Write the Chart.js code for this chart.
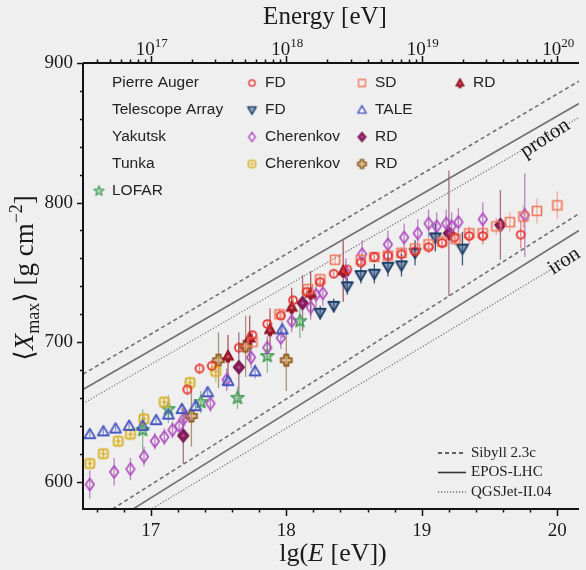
<!DOCTYPE html>
<html>
<head>
<meta charset="utf-8">
<script src="https://cdn.jsdelivr.net/npm/chart.js@4/dist/chart.umd.min.js"></script>
<style>
  html, body { margin: 0; padding: 0; background: #efefef; }
  #wrap { width: 586px; height: 570px; position: relative; }
</style>
</head>
<body>
<div id="wrap"><canvas id="xmaxChart"></canvas></div>
<script>
(function () {
  'use strict';

  // axis ticks
  const lgTicks = [17, 18, 19, 20];
  const xmaxTicks = [600, 700, 800, 900];
  const energyExponents = ['17', '18', '19', '20'];

  // Pierre Auger
  const augerFdLgE = [17.27, 17.36, 17.45, 17.65, 17.75, 17.86, 17.96, 18.05, 18.15, 18.25, 18.35, 18.45, 18.55, 18.65, 18.75, 18.85, 18.95, 19.05, 19.15, 19.24, 19.35, 19.45, 19.73];
  const augerFdXmax = [666, 681, 683, 696, 705, 713, 719, 730, 736, 743, 749, 752, 757, 761, 762, 763, 765, 768, 771, 775, 776, 776, 777];
  const augerFdErr = [4, 4, 4, 4, 3, 3, 3, 3, 3, 3, 3, 3, 3, 3, 3, 3, 4, 4, 4, 5, 6, 6, 10];

  const augerSdLgE = [17.75, 17.95, 18.16, 18.25, 18.36, 18.55, 18.65, 18.75, 18.85, 18.95, 19.05, 19.15, 19.25, 19.35, 19.45, 19.55, 19.65, 19.75, 19.85, 20.0];
  const augerSdXmax = [700, 720, 738, 745, 759, 759, 761, 762, 764, 767, 770, 772, 774, 778, 778, 783, 786, 790, 794, 798];
  const augerSdErr = [4, 4, 4, 4, 4, 4, 4, 4, 4, 4, 5, 5, 5, 5, 6, 6, 7, 8, 9, 10];

  const augerRdLgE = [17.57, 17.73, 17.88, 18.04, 18.18, 18.42];
  const augerRdXmax = [690, 703, 709, 725, 735, 751];
  const augerRdErr = [15, 16, 15, 14, 16, 22];

  // Telescope Array
  const taFdLgE = [18.25, 18.35, 18.45, 18.55, 18.65, 18.75, 18.85, 18.95, 19.1, 19.3];
  const taFdXmax = [721, 726, 740, 748, 749, 754, 755, 764, 775, 767];
  const taFdErr = [5, 5, 6, 6, 7, 7, 8, 9, 10, 12];

  const taleLgE = [16.55, 16.65, 16.74, 16.84, 16.94, 17.04, 17.13, 17.23, 17.33, 17.42, 17.57, 17.77, 17.97];
  const taleXmax = [634, 636, 638, 640, 640, 644, 648, 652, 654, 664, 672, 679, 709];
  const taleErr = [2, 2, 2, 2, 2, 2, 2, 3, 3, 3, 4, 5, 6];

  // Yakutsk
  const yakCherLgE = [16.55, 16.73, 16.85, 16.95, 17.03, 17.1, 17.16, 17.21, 17.25, 17.44, 17.56, 17.74, 17.86, 17.96, 18.04, 18.18, 18.22, 18.27, 18.44, 18.56, 18.75, 18.87, 18.97, 19.05, 19.11, 19.18, 19.22, 19.27, 19.45, 19.76];
  const yakCherXmax = [598, 607, 609, 618, 629, 632, 637, 640, 646, 656, 673, 689, 696, 703, 715, 725, 734, 735, 750, 763, 770, 775, 778, 785, 783, 785, 783, 786, 788, 791];
  const yakCherErr = [10, 10, 8, 7, 6, 6, 6, 6, 6, 6, 8, 8, 8, 8, 8, 9, 9, 9, 10, 10, 10, 10, 10, 10, 10, 10, 10, 10, 12, 30];

  const yakRdLgE = [17.24, 17.65, 18.12, 19.2, 19.58];
  const yakRdXmax = [633, 682, 728, 778, 784];
  const yakRdErr = [20, 25, 20, 45, 25];

  // Tunka
  const tunkaCherLgE = [16.55, 16.65, 16.76, 16.85, 16.95, 17.1, 17.29, 17.48];
  const tunkaCherXmax = [613, 620, 629, 634, 645, 657, 671, 679];
  const tunkaCherErr = [3, 3, 3, 3, 3, 3, 4, 8];

  const tunkaRdLgE = [17.3, 17.5, 17.7, 18.0];
  const tunkaRdXmax = [647, 687, 697, 687];
  const tunkaRdErr = [22, 20, 22, 22];

  // LOFAR
  const lofarLgE = [16.94, 17.13, 17.37, 17.64, 17.86, 18.1];
  const lofarXmax = [637, 652, 657, 660, 690, 715];
  const lofarErr = [15, 10, 8, 8, 12, 12];

  // air-shower model predictions (proton, iron)
  const modelLgE = [16.5, 20.16];
  const sibyllProton = [677, 887];
  const eposProton = [666, 871];
  const qgsjetProton = [656, 861];
  const sibyllIron = [567, 792];
  const eposIron = [558, 780];
  const qgsjetIron = [551, 764];

  const BG = '#efefef';
  const SERIF = '"Liberation Serif", "DejaVu Serif", serif';
  const SANS = '"Liberation Sans", Arial, sans-serif';
  const LINE_GREY = '#707070';

  const toPoints = (xs, ys) => xs.map((v, i) => ({ x: v, y: ys[i] }));

  // small offscreen canvases used as point styles
  function makeMarker(scale, paint) {
    const size = Math.ceil(18 * scale);
    const c = document.createElement('canvas');
    c.width = size;
    c.height = size;
    const g = c.getContext('2d');
    g.translate(size / 2, size / 2);
    g.scale(scale, scale);
    g.lineJoin = 'round';
    paint(g);
    return c;
  }

  function polygon(g, pts) {
    g.beginPath();
    pts.forEach(([px, py], i) => (i ? g.lineTo(px, py) : g.moveTo(px, py)));
    g.closePath();
  }

  const painters = {
    augerFd(g) {
      g.strokeStyle = '#e5302c'; g.lineWidth = 1.7;
      g.beginPath(); g.arc(0, 0, 4, 0, Math.PI * 2); g.stroke();
    },
    augerSd(g) {
      g.strokeStyle = '#f0775c'; g.lineWidth = 1.7;
      g.strokeRect(-4.5, -4.5, 9, 9);
    },
    augerRd(g) {
      g.fillStyle = '#a3192b'; g.strokeStyle = '#8a1020'; g.lineWidth = 1.2;
      polygon(g, [[0, -6], [5.5, 4], [1.5, 4], [1.5, 6], [-1.5, 6], [-1.5, 4], [-5.5, 4]]);
      g.fill(); g.stroke();
      g.fillStyle = 'rgba(230,120,120,0.7)';
      g.beginPath(); g.arc(0, 0.5, 1.6, 0, Math.PI * 2); g.fill();
    },
    taFd(g) {
      g.fillStyle = 'rgba(60,95,145,0.55)'; g.strokeStyle = '#1e3d66'; g.lineWidth = 1.8;
      polygon(g, [[-5.5, -4], [5.5, -4], [0, 5.5]]);
      g.fill(); g.stroke();
    },
    tale(g) {
      g.strokeStyle = '#4858c0'; g.lineWidth = 1.8;
      polygon(g, [[0, -5.5], [5.5, 4], [-5.5, 4]]);
      g.stroke();
    },
    yakCher(g) {
      g.strokeStyle = '#b04cc0'; g.lineWidth = 1.7;
      polygon(g, [[0, -6], [4.3, 0], [0, 6], [-4.3, 0]]);
      g.stroke();
    },
    yakRd(g) {
      g.fillStyle = '#8a1d5e'; g.strokeStyle = '#6e1248'; g.lineWidth = 1.2;
      polygon(g, [[0, -6.5], [5.5, 0], [0, 6.5], [-5.5, 0]]);
      g.fill(); g.stroke();
      g.fillStyle = 'rgba(220,120,180,0.6)';
      g.beginPath(); g.arc(0, 0, 1.6, 0, Math.PI * 2); g.fill();
    },
    tunkaCher(g) {
      g.strokeStyle = '#dab32a'; g.lineWidth = 2;
      g.beginPath();
      g.moveTo(-2, -4.5); g.arcTo(-4.5, -4.5, -4.5, -2, 2.2);
      g.lineTo(-4.5, 2); g.arcTo(-4.5, 4.5, -2, 4.5, 2.2);
      g.lineTo(2, 4.5); g.arcTo(4.5, 4.5, 4.5, 2, 2.2);
      g.lineTo(4.5, -2); g.arcTo(4.5, -4.5, 2, -4.5, 2.2);
      g.closePath();
      g.stroke();
      g.lineWidth = 1.4;
      g.beginPath(); g.moveTo(-2.5, 0); g.lineTo(2.5, 0); g.moveTo(0, -2.5); g.lineTo(0, 2.5); g.stroke();
    },
    tunkaRd(g) {
      g.fillStyle = 'rgba(205,150,80,0.55)'; g.strokeStyle = '#8f5c1e'; g.lineWidth = 1.8;
      const a = 2.2, b = 5.5;
      polygon(g, [[-a, -b], [a, -b], [a, -a], [b, -a], [b, a], [a, a], [a, b], [-a, b], [-a, a], [-b, a], [-b, -a], [-a, -a]]);
      g.fill(); g.stroke();
    },
    lofar(g) {
      const pts = [];
      for (let k = 0; k < 10; k++) {
        const r = k % 2 ? 2.8 : 6.8;
        const ang = -Math.PI / 2 + k * Math.PI / 5;
        pts.push([r * Math.cos(ang), r * Math.sin(ang)]);
      }
      g.fillStyle = 'rgba(120,195,135,0.55)'; g.strokeStyle = '#4a9f5c'; g.lineWidth = 1.6;
      polygon(g, pts);
      g.fill(); g.stroke();
    }
  };

  const plotMarkers = {};
  const legendMarkers = {};
  Object.keys(painters).forEach((k) => {
    plotMarkers[k] = makeMarker(1, painters[k]);
    legendMarkers[k] = makeMarker(0.78, painters[k]);
  });

  const errorColors = {
    augerFd: 'rgba(229,48,44,0.55)',
    augerSd: 'rgba(240,119,92,0.55)',
    augerRd: 'rgba(140,25,40,0.7)',
    taFd: 'rgba(30,61,102,0.85)',
    tale: 'rgba(72,88,192,0.6)',
    yakCher: 'rgba(150,60,160,0.6)',
    yakRd: 'rgba(110,30,80,0.6)',
    tunkaCher: 'rgba(200,160,30,0.6)',
    tunkaRd: 'rgba(120,90,40,0.6)',
    lofar: 'rgba(70,150,90,0.6)'
  };

  function markerSet(label, key, xs, ys, errs) {
    return {
      label,
      data: toPoints(xs, ys),
      errors: errs,
      errorColor: errorColors[key],
      showLine: false,
      pointStyle: plotMarkers[key],
      pointRadius: 6,
      order: 1
    };
  }

  function modelLine(label, ys, dash) {
    return {
      label,
      data: toPoints(modelLgE, ys),
      showLine: true,
      borderColor: LINE_GREY,
      borderWidth: dash.length && dash[0] < 2 ? 1.2 : 1.6,
      borderDash: dash,
      pointRadius: 0,
      order: 10
    };
  }

  const datasets = [
    markerSet('Auger FD', 'augerFd', augerFdLgE, augerFdXmax, augerFdErr),
    markerSet('Auger SD', 'augerSd', augerSdLgE, augerSdXmax, augerSdErr),
    markerSet('Auger RD', 'augerRd', augerRdLgE, augerRdXmax, augerRdErr),
    markerSet('TA FD', 'taFd', taFdLgE, taFdXmax, taFdErr),
    markerSet('TALE', 'tale', taleLgE, taleXmax, taleErr),
    markerSet('Yakutsk Cherenkov', 'yakCher', yakCherLgE, yakCherXmax, yakCherErr),
    markerSet('Yakutsk RD', 'yakRd', yakRdLgE, yakRdXmax, yakRdErr),
    markerSet('Tunka Cherenkov', 'tunkaCher', tunkaCherLgE, tunkaCherXmax, tunkaCherErr),
    markerSet('Tunka RD', 'tunkaRd', tunkaRdLgE, tunkaRdXmax, tunkaRdErr),
    markerSet('LOFAR', 'lofar', lofarLgE, lofarXmax, lofarErr),
    modelLine('Sibyll 2.3c p', sibyllProton, [4, 3]),
    modelLine('EPOS-LHC p', eposProton, []),
    modelLine('QGSJet-II.04 p', qgsjetProton, [1.2, 1.8]),
    modelLine('Sibyll 2.3c Fe', sibyllIron, [4, 3]),
    modelLine('EPOS-LHC Fe', eposIron, []),
    modelLine('QGSJet-II.04 Fe', qgsjetIron, [1.2, 1.8])
  ];

  function drawMarker(ctx, key, x, y) {
    const m = legendMarkers[key];
    ctx.drawImage(m, x - m.width / 2, y - m.height / 2);
  }

  // text made of runs with different fonts / offsets, centered on cx
  function drawRuns(ctx, runs, cx, baseY) {
    let total = 0;
    runs.forEach((r) => { ctx.font = r.font; r.w = ctx.measureText(r.t).width; total += r.w; });
    let x = cx - total / 2;
    runs.forEach((r) => {
      ctx.font = r.font;
      ctx.fillText(r.t, x, baseY + (r.dy || 0));
      x += r.w;
    });
  }

  const errorBars = {
    id: 'errorBars',
    beforeDatasetsDraw(chart) {
      const { ctx, chartArea: a, scales: { x, y } } = chart;
      ctx.save();
      ctx.beginPath();
      ctx.rect(a.left, a.top, a.right - a.left, a.bottom - a.top);
      ctx.clip();
      ctx.lineWidth = 1.3;
      chart.data.datasets.forEach((ds) => {
        if (!ds.errors) return;
        ctx.strokeStyle = ds.errorColor;
        ds.data.forEach((p, j) => {
          const e = ds.errors[j];
          if (!e) return;
          const px = x.getPixelForValue(p.x);
          ctx.beginPath();
          ctx.moveTo(px, y.getPixelForValue(p.y - e));
          ctx.lineTo(px, y.getPixelForValue(p.y + e));
          ctx.stroke();
        });
      });
      ctx.restore();
    }
  };

  const frame = {
    id: 'frame',
    beforeDraw(chart) {
      const { ctx, width, height } = chart;
      ctx.save();
      ctx.fillStyle = BG;
      ctx.fillRect(0, 0, width, height);
      ctx.restore();
    },
    afterDraw(chart) {
      const { ctx, chartArea: a, scales: { x, y } } = chart;
      ctx.save();

      // axis lines
      ctx.strokeStyle = '#111';
      ctx.lineWidth = 2;
      ctx.beginPath();
      ctx.moveTo(a.left, a.top);
      ctx.lineTo(a.left, a.bottom);
      ctx.lineTo(a.right, a.bottom);
      ctx.moveTo(a.left, a.top);
      ctx.lineTo(a.right, a.top);
      ctx.stroke();

      // tick marks
      ctx.lineWidth = 1.5;
      ctx.beginPath();
      for (let i = 83; i <= 101; i++) {
        const v = i / 5;
        if (v < x.min || v > x.max) continue;
        const px = Math.round(x.getPixelForValue(v)) + 0.5;
        const len = i % 5 === 0 ? 7 : 3.5;
        ctx.moveTo(px, a.bottom);
        ctx.lineTo(px, a.bottom + len);
      }
      for (let v = 600; v <= 900; v += 20) {
        const py = Math.round(y.getPixelForValue(v)) + 0.5;
        const len = v % 100 === 0 ? 6 : 3;
        ctx.moveTo(a.left, py);
        ctx.lineTo(a.left - len, py);
      }
      for (let d = 16; d <= 20; d++) {
        for (let m = 1; m <= 9; m++) {
          const v = d + Math.log10(m);
          if (v < x.min || v > x.max) continue;
          const px = Math.round(x.getPixelForValue(v)) + 0.5;
          const len = m === 1 ? 7 : 3.5;
          ctx.moveTo(px, a.top);
          ctx.lineTo(px, a.top - len);
        }
      }
      ctx.stroke();

      // top energy labels 10^n
      ctx.fillStyle = '#1a1a1a';
      ctx.textAlign = 'left';
      ctx.textBaseline = 'alphabetic';
      lgTicks.forEach((v, i) => {
        drawRuns(ctx, [
          { t: '10', font: `19px ${SERIF}` },
          { t: energyExponents[i], font: `13px ${SERIF}`, dy: -8 }
        ], x.getPixelForValue(v) + 1, 55);
      });

      // axis titles
      drawRuns(ctx, [{ t: 'Energy [eV]', font: `25px ${SERIF}` }], (a.left + a.right) / 2 - 6, 24);
      drawRuns(ctx, [
        { t: 'lg(', font: `26px ${SERIF}` },
        { t: 'E', font: `italic 26px ${SERIF}` },
        { t: ' [eV])', font: `26px ${SERIF}` }
      ], (a.left + a.right) / 2 + 2, 561);

      ctx.save();
      ctx.translate(33, 278);
      ctx.rotate(-Math.PI / 2);
      drawRuns(ctx, [
        { t: '\u27E8', font: `27px ${SERIF}` },
        { t: 'X', font: `italic 27px ${SERIF}` },
        { t: 'max', font: `18px ${SERIF}`, dy: 6 },
        { t: '\u27E9', font: `27px ${SERIF}` },
        { t: ' [g cm', font: `27px ${SERIF}` },
        { t: '\u22122', font: `18px ${SERIF}`, dy: -11 },
        { t: ']', font: `27px ${SERIF}` }
      ], 0, 0);
      ctx.restore();

      // proton / iron labels along the model bands
      const bandLabel = (text, lg, xm) => {
        ctx.save();
        ctx.translate(x.getPixelForValue(lg), y.getPixelForValue(xm));
        ctx.rotate(-33 * Math.PI / 180);
        ctx.font = `21px ${SERIF}`;
        ctx.textAlign = 'center';
        ctx.textBaseline = 'middle';
        ctx.fillStyle = '#1a1a1a';
        ctx.fillText(text, 0, 0);
        ctx.restore();
      };
      bandLabel('proton', 19.91, 846);
      bandLabel('iron', 20.05, 758);

      // experiment legend
      ctx.textAlign = 'left';
      ctx.textBaseline = 'middle';
      ctx.font = `15.5px ${SANS}`;
      ctx.fillStyle = '#222';
      const rows = [83, 110, 137, 164, 191];
      const legendRows = [
        ['Pierre Auger', [['augerFd', 'FD'], ['augerSd', 'SD'], ['augerRd', 'RD']]],
        ['Telescope Array', [['taFd', 'FD'], ['tale', 'TALE']]],
        ['Yakutsk', [['yakCher', 'Cherenkov'], ['yakRd', 'RD']]],
        ['Tunka', [['tunkaCher', 'Cherenkov'], ['tunkaRd', 'RD']]]
      ];
      const cols = [252, 362, 460];
      legendRows.forEach(([name, entries], r) => {
        ctx.fillText(name, 112, rows[r]);
        entries.forEach(([key, lbl], c) => {
          drawMarker(ctx, key, cols[c], rows[r]);
          ctx.fillText(lbl, cols[c] + 13, rows[r]);
        });
      });
      drawMarker(ctx, 'lofar', 99, rows[4]);
      ctx.fillText('LOFAR', 112, rows[4]);

      // model legend
      const models = [['Sibyll 2.3c', [4, 3], 1.6], ['EPOS-LHC', [], 1.6], ['QGSJet-II.04', [1.2, 1.8], 1.2]];
      const mRows = [453, 472.5, 492];
      ctx.font = `15px ${SERIF}`;
      models.forEach(([lbl, dash, w], i) => {
        ctx.strokeStyle = '#333';
        ctx.lineWidth = w;
        ctx.setLineDash(dash);
        ctx.beginPath();
        ctx.moveTo(438, mRows[i]);
        ctx.lineTo(466, mRows[i]);
        ctx.stroke();
        ctx.setLineDash([]);
        ctx.fillStyle = '#222';
        ctx.fillText(lbl, 471, mRows[i]);
      });

      ctx.restore();
    }
  };

  new Chart(document.getElementById('xmaxChart'), {
    type: 'scatter',
    data: { datasets },
    options: {
      responsive: true,
      maintainAspectRatio: false,
      animation: false,
      devicePixelRatio: 1,
      layout: { padding: { top: 63, right: 0, bottom: 0, left: 0 } },
      plugins: { legend: { display: false }, tooltip: { enabled: false } },
      scales: {
        x: {
          type: 'linear',
          min: 16.5,
          max: 20.16,
          afterBuildTicks: (scale) => { scale.ticks = lgTicks.map((v) => ({ value: v })); },
          afterFit: (scale) => { scale.height = 61; },
          grid: { display: false, drawTicks: false },
          border: { display: false },
          ticks: {
            padding: 11,
            maxRotation: 0,
            color: '#1a1a1a',
            font: { family: SERIF, size: 19 },
            callback: (v) => String(v)
          }
        },
        y: {
          type: 'linear',
          min: 580.4,
          max: 900,
          afterBuildTicks: (scale) => { scale.ticks = xmaxTicks.map((v) => ({ value: v })); },
          afterFit: (scale) => { scale.width = 83; },
          grid: { display: false, drawTicks: false },
          border: { display: false },
          ticks: {
            padding: 10,
            color: '#1a1a1a',
            font: { family: SERIF, size: 19 },
            callback: (v) => String(v)
          }
        }
      }
    },
    plugins: [errorBars, frame]
  });
})();
</script>
</body>
</html>
